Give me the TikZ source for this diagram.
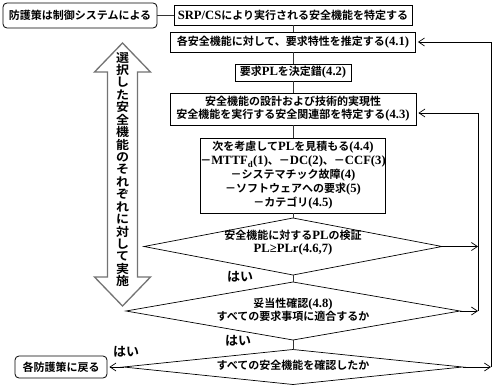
\documentclass[tikz,border=0pt]{standalone}
\usepackage{fontspec}
\newfontfamily\jpf{Noto Sans CJK JP}[BoldFont={Noto Sans CJK JP Bold}]
\newfontfamily\latf{Liberation Serif}[Scale=1.15]
\newcommand\lat[1]{{\latf\bfseries #1}}
\usetikzlibrary{arrows.meta,shapes.geometric,calc}
\tikzset{
  box/.style={draw, line width=0.8pt, inner sep=0pt, align=center,
    font={\jpf\bfseries\fontsize{11}{13}\selectfont}},
  rbox/.style={box, rounded corners=4pt},
  dia/.style={shape=diamond, draw, line width=0.7pt, inner sep=0pt, outer sep=0pt, aspect=1},
  dtext/.style={inner sep=0pt, align=center, font={\jpf\bfseries\fontsize{11}{13}\selectfont}},
  hai/.style={inner sep=0pt, font={\jpf\bfseries\fontsize{13}{13}\selectfont}},
  conn/.style={line width=0.7pt, draw=black!80},
  arr/.style={line width=0.7pt, -{Straight Barb[length=6pt,width=8pt]}},
  bigarrow/.style={draw=black!55, line width=1.3pt, fill=white},
  vtext/.style={inner sep=0pt, align=center, yscale=0.92, transform shape,
    font={\jpf\bfseries\fontsize{13}{13.5}\selectfont}}
}
\begin{document}
\begin{tikzpicture}[x=1pt,y=-1pt]
\useasboundingbox (0,0) rectangle (500,388);
\fill[white] (0,0) rectangle (500,388);
% boxes
\node[rbox, minimum width=154pt, minimum height=25pt] (b1) at (80,15.5) {防護策は制御システムによる};
\node[box, minimum width=238pt, minimum height=20pt] (b2) at (293,15) {\lat{SRP/CS}により実行される安全機能を特定する};
\node[box, minimum width=245pt, minimum height=20pt] (b3) at (293,42) {各安全機能に対して、要求特性を推定する\lat{(4.1)}};
\node[box, minimum width=116pt, minimum height=17pt] (b4) at (293,72.5) {要求\lat{PL}を決定錯\lat{(4.2)}};
\node[box, minimum width=246pt, minimum height=32pt] (b5) at (293,109) {安全機能の設計および技術的実現性\\安全機能を実行する安全関連部を特定する\lat{(4.3)}};
\node[box, minimum width=179pt, minimum height=75pt, font={\jpf\bfseries\fontsize{11}{14}\selectfont}] (b6) at (293,175.5)
  {次を考慮して\lat{PL}を見積もる\lat{(4.4)}\\
   －\lat{MTTF\textsubscript{d}(1)}、－\lat{DC(2)}、－\lat{CCF(3)}\\
   －システマチック故障\lat{(4)}\\
   －ソフトウェアへの要求\lat{(5)}\\
   －カテゴリ\lat{(4.5)}};
\node[rbox, minimum width=92pt, minimum height=22pt] (b7) at (61,367) {各防護策に戻る};
% diamonds
\node[dia, minimum width=298pt, minimum height=57pt] (d1) at (293,246.5) {};
\node[dtext] (d1t) at (293,243) {安全機能に対する\lat{PL}の検証\\\lat{PL≥PLr(4.6,7)}};
\node[dia, minimum width=334pt, minimum height=58pt] (d2) at (293,311) {};
\node[dtext] (d2t) at (293,309.5) {妥当性確認\lat{(4.8)}\\すべての要求事項に適合するか};
\node[dia, minimum width=339pt, minimum height=35pt] (d3) at (293,367) {};
\node[dtext] (d3t) at (293,365.5) {すべての安全機能を確認したか};
% labels
\node[hai] (h1) at (240,277) {はい};
\node[hai] (h2) at (238,341) {はい};
\node[hai] (h3) at (126,352) {はい};
% big double arrow
\draw[bigarrow] (122.5,43) -- (150.5,72) -- (137.5,72) -- (137.5,277) -- (150.5,277) -- (122.5,306)
  -- (94.5,277) -- (107.5,277) -- (107.5,72) -- (94.5,72) -- cycle;
\node[vtext] (vt) at (122.5,169.5) {選\\択\\し\\た\\安\\全\\機\\能\\の\\そ\\れ\\ぞ\\れ\\に\\対\\し\\て\\実\\施};
% main flow connectors
\draw[conn] (b1.east) -- (b1.east -| b2.west);
\draw[conn] (b2) -- (b3);
\draw[conn] (b3) -- (b4);
\draw[conn] (b4) -- (b5);
\draw[conn] (b5) -- (b6);
\draw[conn] (b6) -- (d1);
\draw[conn] (d1) -- (d2);
\draw[conn] (d2) -- (d3);
% feedback loops
\coordinate (fa) at (478,0);
\coordinate (fb) at (491,0);
\coordinate (b5in) at ($(b5.east)+(0,4)$);
\draw[arr] (d1.east) -- (d1.east -| fa);
\draw[arr] (d2.east) -- (d2.east -| fa);
\draw[arr, shorten >=2pt] (d2.east -| fa) -- (b5in -| fa) -- (b5in);
\draw[arr] (d3.east) -- (d3.east -| fb);
\draw[arr, shorten >=2pt] (d3.east -| fb) -- (b3.east -| fb) -- (b3.east);
\draw[arr, shorten >=2pt] (d3.west) -- (b7.east);
\end{tikzpicture}
\end{document}
